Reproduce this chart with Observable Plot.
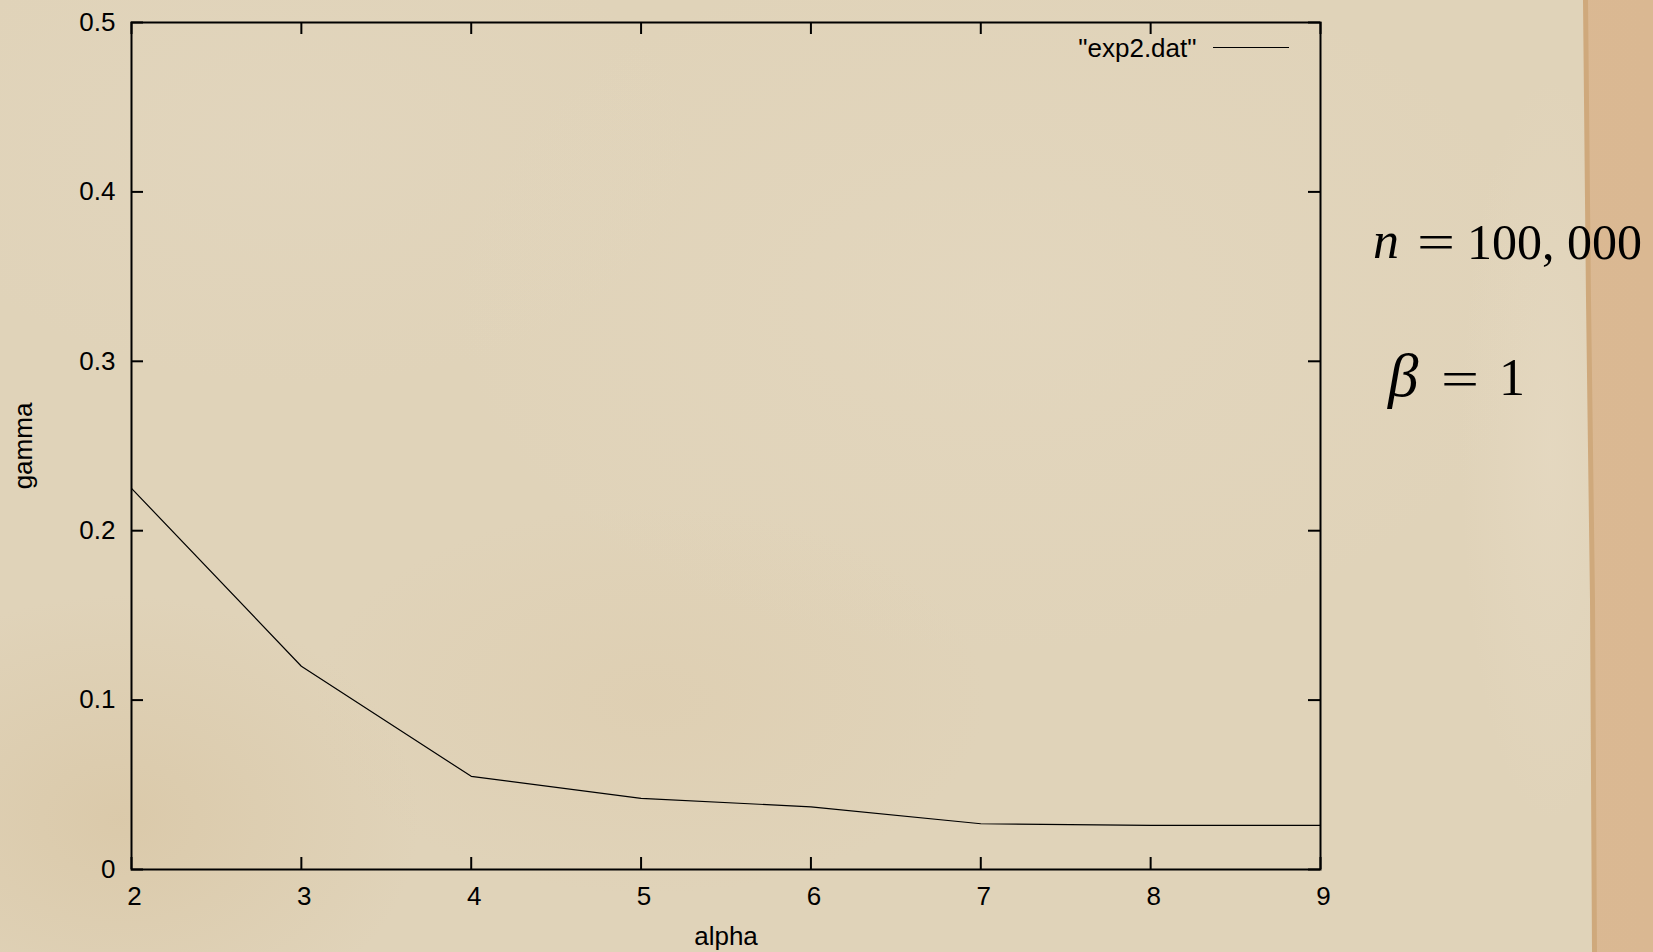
<!DOCTYPE html>
<html>
<head>
<meta charset="utf-8">
<script src="https://cdn.jsdelivr.net/npm/d3@7"></script>
<script src="https://cdn.jsdelivr.net/npm/@observablehq/plot@0.6"></script>
<style>
html, body { margin: 0; padding: 0; background: #dfd1b6; }
#page {
  position: relative; width: 1653px; height: 952px; overflow: hidden;
  background:
    radial-gradient(ellipse 450px 260px at 650px 700px, rgba(218,196,160,0.25), rgba(218,196,160,0) 75%),
    radial-gradient(ellipse 700px 450px at 1000px 300px, rgba(232,221,200,0.30), rgba(232,221,200,0) 80%),
    radial-gradient(ellipse 400px 300px at 120px 820px, rgba(212,190,152,0.45), rgba(212,190,152,0) 75%),
    radial-gradient(ellipse 500px 300px at 300px 150px, rgba(228,217,196,0.35), rgba(228,217,196,0) 80%),
    radial-gradient(ellipse 120px 500px at 1550px 450px, rgba(232,220,198,0.5), rgba(232,220,198,0) 75%),
    #e0d3b9;
}
#edge {
  position: absolute; left: 0; top: 0; width: 1653px; height: 952px;
  background: #cfa97c;
  clip-path: polygon(1583px 0, 1653px 0, 1653px 952px, 1592px 952px, 1590px 600px, 1586px 300px);
}
#strip {
  position: absolute; left: 0; top: 0; width: 1653px; height: 952px;
  background: linear-gradient(to right, #d9b68f, #ddbc98 40%, #dab892);
  clip-path: polygon(1588px 0, 1653px 0, 1653px 952px, 1597px 952px, 1595px 600px, 1591px 300px);
}
#chart { position: absolute; left: 0; top: 0; }
#chart svg { display: block; }
.ann {
  position: absolute; font-family: "Liberation Serif", "Times New Roman", serif;
  font-size: 50px; line-height: 1; color: #000; white-space: nowrap;
}
.ann.sym { font-style: italic; }
.ann.eq { transform: scaleX(1.35); transform-origin: left center; }
</style>
</head>
<body>
<div id="page">
  <div id="edge"></div>
  <div id="strip"></div>
  <div id="chart"></div>
</div>
<script>
// ---- data ----
const alpha = [2, 3, 4, 5, 6, 7, 8, 9];
const gamma = [0.225, 0.12, 0.055, 0.042, 0.037, 0.027, 0.026, 0.026];
const xTicks = [2, 3, 4, 5, 6, 7, 8, 9];
const yTicks = [0, 0.1, 0.2, 0.3, 0.4, 0.5];
const seriesName = '"exp2.dat"';
const xLabel = "alpha";
const yLabel = "gamma";
const annN = { sym: "n", value: "100, 000" };
const annB = { sym: "β", value: "1" };

const data = alpha.map((a, i) => ({ alpha: a, gamma: gamma[i] }));

const W = 1653, H = 952;
const mL = 131, mR = 333, mT = 22, mB = 83;
const plotW = W - mL - mR, plotH = H - mT - mB;
const tickLen = 12;
const yMax = yTicks[yTicks.length - 1];

const chart = Plot.plot({
  width: W, height: H,
  marginLeft: mL, marginRight: mR, marginTop: mT, marginBottom: mB,
  style: { background: "transparent", fontFamily: "'Liberation Sans', Arial, sans-serif", fontSize: "26px", color: "#000", overflow: "visible" },
  x: { domain: [xTicks[0], xTicks[xTicks.length - 1]] },
  y: { domain: [yTicks[0], yMax] },
  marks: [
    Plot.axisX(xTicks, { tickSize: 0, tickPadding: 17, dx: 3, fontSize: 26, tickFormat: d => String(d), label: xLabel, labelAnchor: "center", labelArrow: "none", labelOffset: 75 }),
    Plot.axisY(yTicks, { tickSize: 0, tickPadding: 16, fontSize: 26, tickFormat: d => String(d), label: yLabel, labelAnchor: "center", labelArrow: "none", labelOffset: 118 }),
    Plot.ruleX(xTicks, { x: d => d, insetTop: plotH - tickLen, stroke: "#000", strokeWidth: 2 }),
    Plot.ruleX(xTicks, { x: d => d, insetBottom: plotH - tickLen, stroke: "#000", strokeWidth: 2 }),
    Plot.ruleY(yTicks, { y: d => d, insetRight: plotW - tickLen, stroke: "#000", strokeWidth: 2 }),
    Plot.ruleY(yTicks, { y: d => d, insetLeft: plotW - tickLen, stroke: "#000", strokeWidth: 2 }),
    Plot.line(data, { x: "alpha", y: "gamma", stroke: "#000", strokeWidth: 1.2 }),
    Plot.text([seriesName], { text: d => d, frameAnchor: "top-right", textAnchor: "end", lineAnchor: "middle", dx: -124, dy: 26, fontSize: 26, fill: "#000" }),
    Plot.ruleY([yMax], { y: d => d, dy: 25, insetLeft: 1082, insetRight: 31, stroke: "#000", strokeWidth: 1.2 }),
    Plot.frame({ stroke: "#000", strokeWidth: 2 })
  ]
});
document.getElementById("chart").appendChild(chart);

// annotation layout (pixel placement of the three pieces, baseline-aligned)
const page = document.getElementById("page");
function piece(text, cls, left, baseline, size) {
  const el = document.createElement("div");
  el.className = "ann " + cls;
  el.textContent = text;
  el.style.fontSize = size + "px";
  el.style.left = left + "px";
  // Liberation Serif: ascent 0.891, descent 0.216, line-height 1
  el.style.top = (baseline - size * (0.891 - 0.0535)) + "px";
  page.appendChild(el);
}
piece(annN.sym, "sym", 1373, 259, 52);
piece("=", "eq", 1417, 259, 50);
piece(annN.value, "val", 1467, 259, 50);
piece(annB.sym, "sym", 1388, 396, 61);
piece("=", "eq", 1441, 396, 50);
piece(annB.value, "val", 1499, 396, 52);
</script>
</body>
</html>
